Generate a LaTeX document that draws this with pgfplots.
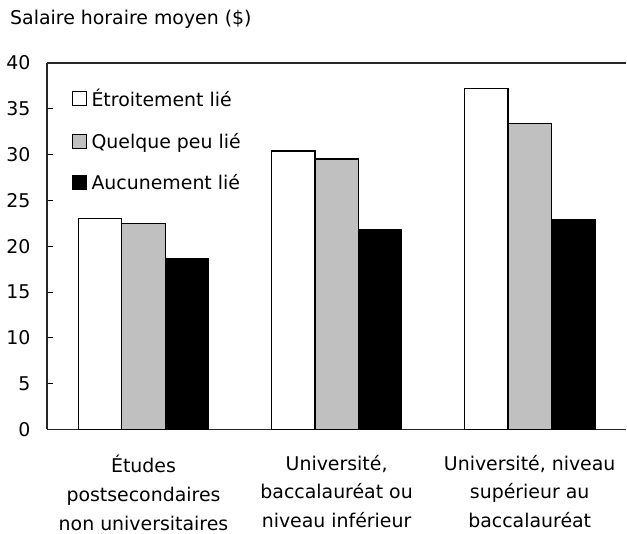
\documentclass[border=0pt]{standalone}
\usepackage{pgfplots}
\pgfplotsset{compat=1.18}
\usepackage{fontspec}
\setmainfont{DejaVu Sans}
\definecolor{barwhite}{RGB}{255,255,255}
\definecolor{bargrey}{RGB}{192,192,192}
\definecolor{barblack}{RGB}{0,0,0}
\begin{document}
\begin{tikzpicture}
\begin{axis}[
    scale only axis,
    width=580bp, height=367bp,
    ybar=0pt, bar width=0.225,
    xmin=-0.5, xmax=2.5,
    ymin=0, ymax=40,
    xtick={0,1,2},
    xticklabels={{Études\\postsecondaires\\non universitaires},
                 {Université,\\baccalauréat ou\\niveau inférieur},
                 {Université, niveau\\supérieur au\\baccalauréat}},
    ytick={0,5,...,40},
    axis x line*=bottom, axis y line*=left,
    axis line style={line width=1.5bp, black!85},
    major x tick style={draw=none},
    tick align=inside,
    major tick length=6bp,
    major y tick style={line width=1bp, black},
    /pgf/number format/assume math mode=true,
    tick label style={font=\fontsize{19}{29}\selectfont},
    xticklabel style={align=center, yshift=-22bp},
    yticklabel style={xshift=-13bp},
    legend style={draw=none, fill=none, at={(axis description cs:0.0385,0.94)},
        anchor=north west, font=\fontsize{19}{22}\selectfont,
        row sep=21bp, cells={anchor=west}},
    legend image code/.code={\draw[#1, line width=1bp] (0bp,-7bp) rectangle (14bp,7bp); \path (16bp,0bp);},
    every axis plot/.append style={draw=black, line width=1.3bp},
]
\addplot[fill=barwhite] coordinates {(0,23.0) (1,30.4) (2,37.2)};
\addplot[fill=bargrey] coordinates {(0,22.5) (1,29.5) (2,33.4)};
\addplot[fill=barblack] coordinates {(0,18.6) (1,21.8) (2,22.9)};
\legend{Étroitement lié, Quelque peu lié, Aucunement lié}
\draw[line width=1.5bp, black!85] (rel axis cs:0,1) -- (rel axis cs:1,1);
\coordinate (tl) at (rel axis cs:0,1);
\end{axis}
\node[anchor=west, font=\fontsize{19}{22}\selectfont, inner sep=0pt]
    at (tl) [xshift=-37bp, yshift=44bp] {Salaire horaire moyen (\$)};
\useasboundingbox (tl) ++(-47bp,63bp) rectangle ++(627bp,-531bp);
\end{tikzpicture}
\end{document}
